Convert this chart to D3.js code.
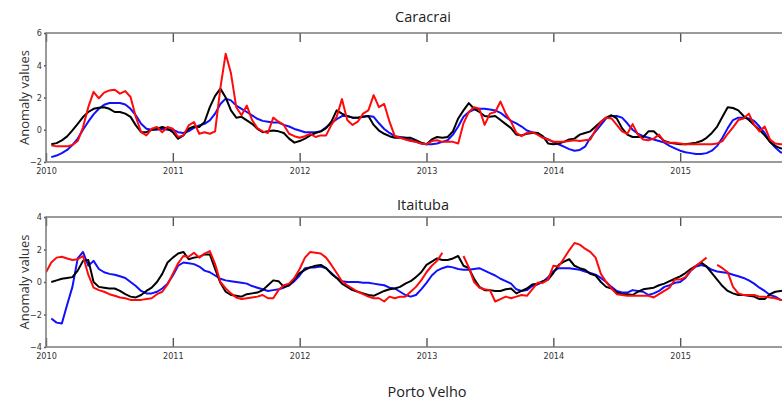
<!DOCTYPE html>
<html>
<head>
<meta charset="utf-8">
<script src="https://cdn.jsdelivr.net/npm/d3@7"></script>
<style>
  body { margin: 0; background: #fff; }
  svg { display: block; }
  .tick text { font-family: "DejaVu Sans Condensed", "Liberation Sans Narrow", "Liberation Sans", sans-serif; font-size: 9px; fill: #333; }
  .tick line { stroke: #555; stroke-width: 1.4; }
  .title { font-family: "Open Sans", "Noto Sans", sans-serif; font-size: 14.5px; fill: #222; }
  .ylab { font-family: "Open Sans", "Noto Sans", sans-serif; font-size: 13px; fill: #333; }
</style>
</head>
<body>
<svg id="chart" width="782" height="403"></svg>
<script>
// x positions: one value every half month, 2010.0 .. 2015.83
var steps = d3.range(141).map(function(i) { return 2010 + i / 24; });
var years = [2010, 2011, 2012, 2013, 2014, 2015];
var seriesNames = ["blue", "black", "red"];

// Caracrai
var caraBlack = [null,
  -0.9,-0.83,-0.66,-0.41,-0.04,0.37,0.79,1.1,1.3,1.37,1.4,1.3,1.1,1.1,1.0,0.8,0.27,-0.15,-0.15,0,
  0.06,0.17,0.06,-0.15,-0.56,-0.35,0.06,0.2,0.17,0.48,1.4,2.1,2.55,2.0,1.2,0.75,0.8,0.58,0.37,0.06,
  -0.15,-0.1,-0.05,-0.1,-0.2,-0.55,-0.8,-0.7,-0.55,-0.35,-0.2,-0.1,0.1,0.5,1.2,1.0,0.85,0.75,0.75,0.8,
  0.85,0.3,-0.05,-0.25,-0.4,-0.5,-0.5,-0.5,-0.5,-0.65,-0.8,-0.9,-0.6,-0.45,-0.5,-0.45,-0.1,0.7,1.2,1.65,
  1.3,1.1,0.85,0.8,0.85,0.6,0.35,0.1,-0.3,
  -0.35,-0.25,-0.2,-0.2,-0.4,-0.85,-0.9,-0.85,-0.75,-0.6,-0.55,-0.3,-0.2,-0.1,0.2,0.5,0.75,0.9,0.7,0.1,
  -0.3,-0.45,-0.45,-0.45,-0.1,-0.1,-0.4,-0.7,-0.8,-0.85,-0.9,-0.9,-0.85,-0.8,-0.7,-0.5,-0.2,0.2,0.8,1.4,
  1.35,1.2,0.85,0.6,0.3,0.0,-0.35,-0.75,-1.0,-1.15,-1.2];
var caraBlue = [null,
  -1.7,-1.6,-1.45,-1.25,-0.95,-0.55,0.0,0.5,0.95,1.3,1.55,1.66,1.66,1.66,1.57,1.3,0.89,0.37,0.06,0,
  0,0.06,0,0,-0.15,-0.2,-0.08,0.12,0.27,0.37,0.58,1.0,1.6,1.93,1.82,1.5,1.3,1.1,0.89,0.68,
  0.55,0.5,0.45,0.45,0.3,0.2,0.05,-0.05,-0.15,-0.15,-0.15,-0.1,0.15,0.4,0.65,0.85,0.85,0.75,0.75,0.8,
  0.85,0.8,0.4,0.05,-0.2,-0.4,-0.45,-0.5,-0.65,-0.75,-0.85,-0.9,-0.9,-0.85,-0.75,-0.65,-0.3,0.2,0.8,1.1,
  1.25,1.3,1.3,1.25,1.2,1.05,0.8,0.55,0.4,
  0.2,-0.05,-0.15,-0.2,-0.45,-0.6,-0.75,-0.9,-1.05,-1.2,-1.3,-1.25,-1.05,-0.5,-0.1,0.3,0.7,0.85,0.85,0.75,
  0.4,0.0,-0.25,-0.4,-0.5,-0.6,-0.7,-0.8,-1.0,-1.15,-1.3,-1.4,-1.45,-1.5,-1.5,-1.45,-1.3,-1.0,-0.5,0.1,
  0.6,0.75,0.75,0.7,0.55,0.2,-0.2,-0.75,-1.1,-1.4,-1.5];
var caraRed = [null,
  -0.97,-1.03,-1.03,-1.03,-0.95,-0.7,0.15,1.4,2.35,1.95,2.3,2.44,2.48,2.24,2.4,2.03,0.79,-0.15,-0.35,0.06,
  0.17,-0.15,0.17,0.06,-0.45,-0.35,0.27,0.48,-0.25,-0.15,-0.25,-0.1,2.6,4.72,3.5,1.4,0.9,1.5,0.6,0.1,
  -0.1,-0.2,0.75,0.5,0.3,-0.25,-0.4,-0.5,-0.4,-0.25,-0.45,-0.35,-0.35,0.3,0.8,1.9,0.6,0.3,0.5,1.0,
  1.2,2.15,1.4,1.6,0.5,-0.4,-0.5,-0.6,-0.7,-0.75,-0.85,-0.9,-0.7,-0.65,-0.75,-0.75,-0.75,-0.85,0.4,1.1,
  1.4,1.3,0.3,1.0,1.1,1.75,1.0,0.5,-0.2,
  -0.4,-0.2,-0.15,-0.3,-0.5,-0.6,-0.75,-0.75,-0.75,-0.7,-0.65,-0.7,-0.65,-0.6,0.0,0.5,0.75,0.7,0.3,-0.1,
  -0.25,0.35,-0.3,-0.6,-0.65,-0.55,-0.3,-0.75,-0.8,-0.8,-0.85,-0.9,-0.9,-0.9,-0.9,-0.9,-0.9,-0.85,-0.7,-0.25,
  0.15,0.6,0.7,1.0,0.3,-0.1,0.2,-0.6,-0.85,-0.9,-0.9];

// Itaituba
var itaBlack = [null,
  0.0,0.1,0.2,0.25,0.3,0.7,1.3,1.35,0.0,-0.3,-0.35,-0.4,-0.4,-0.55,-0.75,-0.9,-0.95,-0.8,-0.55,-0.35,
  0.0,0.5,1.2,1.5,1.75,1.85,1.4,1.5,1.55,1.7,1.7,0.8,-0.05,-0.6,-0.8,-0.85,-0.9,-0.75,-0.7,-0.65,
  -0.5,-0.2,0.1,0.05,-0.3,-0.2,0.2,0.55,0.75,0.9,1.0,1.05,0.85,0.5,0.25,-0.1,-0.3,-0.5,-0.6,-0.7,
  -0.8,-0.85,-0.7,-0.55,-0.45,-0.4,-0.3,-0.1,0.05,0.3,0.6,1.05,1.25,1.45,1.35,1.35,1.45,1.6,1.0,0.85,
  0.2,-0.3,-0.5,-0.5,-0.55,-0.55,-0.45,-0.4,-0.7,
  -0.55,-0.4,-0.15,-0.1,0.05,0.15,0.55,1.05,1.25,1.4,1.0,0.85,0.75,0.5,0.4,0.0,-0.3,-0.4,-0.65,-0.75,
  -0.75,-0.8,-0.6,-0.45,-0.4,-0.35,-0.2,-0.1,0.05,0.2,0.35,0.55,0.8,1.0,1.2,0.95,0.55,0.15,-0.25,-0.55,
  -0.7,-0.8,-0.8,-0.85,-0.9,-1.05,-1.05,-0.75,-0.6,-0.55,-0.5];
var itaBlue = [null,
  -2.25,-2.5,-2.55,-1.4,-0.3,1.45,1.85,1.0,1.3,0.8,0.6,0.5,0.45,0.35,0.25,0.0,-0.25,-0.55,-0.7,-0.7,
  -0.6,-0.4,-0.1,0.4,1.0,1.2,1.15,1.1,0.95,0.7,0.6,0.4,0.2,0.1,0.05,0.0,-0.05,-0.1,-0.25,-0.35,
  -0.45,-0.55,-0.5,-0.45,-0.35,-0.2,0.05,0.4,0.85,0.9,0.9,0.95,0.85,0.55,0.25,0.05,0.0,0.0,0.0,-0.05,
  -0.05,-0.1,-0.15,-0.2,-0.35,-0.4,-0.6,-0.8,-0.9,-0.8,-0.45,-0.05,0.4,0.7,0.85,0.95,0.9,0.8,0.75,0.75,
  0.8,0.85,0.7,0.55,0.4,0.2,0.05,-0.1,-0.45,
  -0.55,-0.5,-0.25,-0.15,0.0,0.3,0.65,0.85,0.85,0.85,0.8,0.75,0.65,0.55,0.45,0.25,0.0,-0.3,-0.55,-0.65,
  -0.65,-0.5,-0.55,-0.6,-0.8,-0.7,-0.55,-0.3,-0.2,-0.05,0.0,0.25,0.7,0.95,1.05,0.95,0.75,0.65,0.6,0.55,
  0.45,0.35,0.25,0.1,-0.1,-0.35,-0.55,-0.8,-0.9,-1.1,-1.15];
var itaRed = [0.6,
  1.2,1.5,1.55,1.45,1.35,1.4,1.6,0.45,-0.35,-0.5,-0.6,-0.75,-0.85,-0.95,-1.0,-1.1,-1.1,-1.1,-1.05,-1.0,
  -0.75,-0.6,-0.15,0.5,1.15,1.6,1.55,1.8,1.5,1.75,1.9,1.1,0.0,-0.4,-0.7,-0.95,-1.05,-1.0,-0.95,-0.9,
  -0.8,-1.0,-1.0,-0.5,-0.2,-0.1,0.25,0.8,1.5,1.85,1.8,1.75,1.5,1.05,0.55,0.05,-0.2,-0.4,-0.6,-0.75,
  -0.9,-1.0,-1.0,-1.2,-0.9,-1.0,-0.9,-0.9,-0.6,-0.3,0.1,0.6,1.0,1.3,1.8,null,null,null,1.6,0.9,
  0.0,-0.35,-0.45,-0.5,-1.2,-1.05,-0.9,-1.0,-0.9,
  -0.8,-0.85,-0.45,-0.05,-0.05,0.15,1.0,0.95,1.45,1.95,2.4,2.3,2.05,1.85,1.5,0.5,0.0,-0.4,-0.75,-0.8,
  -0.85,-0.85,-0.85,-0.85,-0.85,-0.95,-0.75,-0.55,-0.35,0.15,0.15,0.3,0.7,1.0,1.25,1.5,null,1.05,0.85,0.6,
  -0.3,-0.7,-0.8,-0.8,-0.8,-0.9,-0.9,-0.95,-1.0,-1.1,-1.1];

var colors = { blue: "#1010ff", black: "#000000", red: "#ff0a0a" };

var panels = [
  { title: "Caracrai", top: 33, bottom: 162, domain: [-2, 6], yTicks: [-2, 0, 2, 4, 6], titleY: 22,
    series: { blue: caraBlue, black: caraBlack, red: caraRed } },
  { title: "Itaituba", top: 217, bottom: 347, domain: [-4, 4], yTicks: [-4, -2, 0, 2, 4], titleY: 210,
    series: { blue: itaBlue, black: itaBlack, red: itaRed } }
];

var svg = d3.select("#chart");
var left = 46, right = 807;
var x = d3.scaleLinear().domain([2010, 2016]).range([left, right]);

panels.forEach(function(p, pi) {
  var y = d3.scaleLinear().domain(p.domain).range([p.bottom, p.top]);
  var g = svg.append("g");

  svg.append("clipPath").attr("id", "clip" + pi)
    .append("rect").attr("x", left).attr("y", p.top).attr("width", right - left).attr("height", p.bottom - p.top);

  // series lines
  var line = d3.line()
    .defined(function(d) { return d != null; })
    .x(function(d, i) { return x(steps[i]); })
    .y(function(d) { return y(d); });

  seriesNames.forEach(function(name) {
    g.append("path")
      .attr("clip-path", "url(#clip" + pi + ")")
      .attr("d", line(p.series[name]))
      .attr("fill", "none")
      .attr("stroke", colors[name])
      .attr("stroke-width", 2)
      .attr("stroke-linejoin", "round");
  });

  // axes
  var xb = g.append("g").attr("transform", "translate(0," + p.bottom + ")")
    .call(d3.axisBottom(x).tickValues(years).tickFormat(d3.format("d")).tickSize(-9).tickPadding(6));
  var xt = g.append("g").attr("transform", "translate(0," + p.top + ")")
    .call(d3.axisTop(x).tickValues(years).tickFormat("").tickSize(-9));
  var yl = g.append("g").attr("transform", "translate(" + left + ",0)")
    .call(d3.axisLeft(y).tickValues(p.yTicks).tickSize(2).tickPadding(2));
  [xb, xt, yl].forEach(function(a) { a.select(".domain").remove(); });
  yl.selectAll(".tick line").attr("stroke-width", 1);

  // frame
  g.append("rect")
    .attr("x", left).attr("y", p.top)
    .attr("width", right - left).attr("height", p.bottom - p.top)
    .attr("fill", "none").attr("stroke", "#7a7a7a").attr("stroke-width", 1.5);

  g.append("text").attr("class", "title")
    .attr("x", 423).attr("y", p.titleY).attr("text-anchor", "middle")
    .text(p.title);

  g.append("text").attr("class", "ylab")
    .attr("transform", "translate(29," + ((p.top + p.bottom) / 2) + ") rotate(-90)")
    .attr("text-anchor", "middle")
    .text("Anomaly values");
});

svg.append("text").attr("class", "title")
  .attr("x", 427).attr("y", 397).attr("text-anchor", "middle")
  .text("Porto Velho");
</script>
</body>
</html>
